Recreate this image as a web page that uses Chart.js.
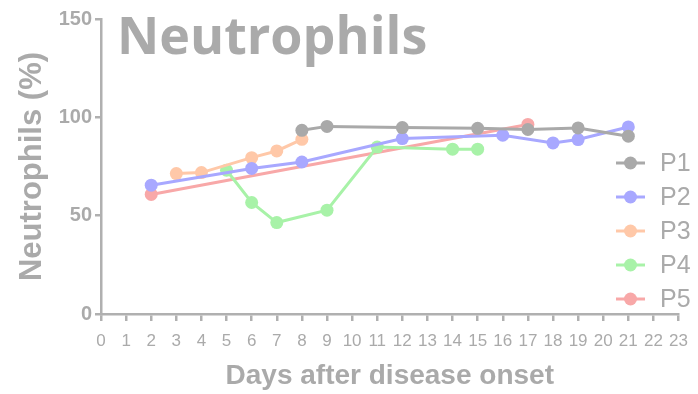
<!DOCTYPE html>
<html><head><meta charset="utf-8">
<script src="https://cdn.jsdelivr.net/npm/chart.js@4/dist/chart.umd.min.js"></script>
<style>html,body{margin:0;padding:0;background:#fff}#wrap{width:698px;height:394px;position:relative}</style>
</head><body><div id="wrap"><canvas id="c" width="698" height="394"></canvas></div>
<script>
const chartTitle = "Neutrophils";
const xTitle = "Days after disease onset";
const yTitle = "Neutrophils (%)";
const xTicks = [0,1,2,3,4,5,6,7,8,9,10,11,12,13,14,15,16,17,18,19,20,21,22,23];
const yTicks = [0,50,100,150];
const seriesNames = ["P1","P2","P3","P4","P5"];
const seriesColors = ["#a9a9a9","#a8a8ff","#ffc8a8","#a8f2a8","#f8a8a8"];
const p1Days = [8,9,12,15,17,19,21];
const p1Vals = [93.4,95.4,94.8,94.4,93.8,94.6,90.4];
const p2Days = [2,6,8,12,16,18,19,21];
const p2Vals = [65.5,74,77.3,89.2,90.9,87,88.7,95.1];
const p3Days = [3,4,6,7,8];
const p3Vals = [71.4,71.9,79.5,82.9,88.8];
const p4Days = [5,6,7,9,11,14,15];
const p4Vals = [73.1,56.7,46.5,52.8,84.9,83.8,83.8];
const p5Days = [2,17];
const p5Vals = [60.8,96.4];

const daysList = [p1Days,p2Days,p3Days,p4Days,p5Days];
const valsList = [p1Vals,p2Vals,p3Vals,p4Vals,p5Vals];
const GREY = "#b0b0b0";
const SANS = "'Liberation Sans',Arial,sans-serif";

const datasets = seriesNames.map((n,i)=>({
  label:n,
  data: daysList[i].map((d,j)=>({x:d,y:valsList[i][j]})),
  borderColor: seriesColors[i],
  backgroundColor: seriesColors[i],
  pointBackgroundColor: seriesColors[i],
  pointBorderColor: seriesColors[i],
  borderWidth: 3,
  pointRadius: 6.5,
  pointBorderWidth: 0,
  tension: 0
}));

const overlay = {
  id:'overlay',
  afterDraw(chart){
    const ctx = chart.ctx;
    ctx.save();
    ctx.fillStyle = "#aaaaaa";
    ctx.font = "bold 52px 'Open Sans', sans-serif";
    ctx.textBaseline = "alphabetic";
    ctx.textAlign = "left";
    ctx.fillText(chartTitle, 117, 54);
    // legend
    const ys = [163,197,231,265,299];
    seriesNames.forEach((n,i)=>{
      const y = ys[i];
      ctx.strokeStyle = seriesColors[i];
      ctx.lineWidth = 3;
      ctx.beginPath(); ctx.moveTo(616,y); ctx.lineTo(645,y); ctx.stroke();
      ctx.fillStyle = seriesColors[i];
      ctx.beginPath(); ctx.arc(630.5,y,6.5,0,Math.PI*2); ctx.fill();
      ctx.fillStyle = "#aaaaaa";
      ctx.font = "25px " + SANS;
      ctx.textBaseline = "middle";
      ctx.fillText(n, 660, y+1);
    });
    ctx.restore();
  }
};

new Chart(document.getElementById('c'),{
  type:'line',
  data:{datasets},
  options:{
    responsive:false,
    animation:false,
    layout:{padding:{top:19,right:17,left:0,bottom:0}},
    plugins:{legend:{display:false},tooltip:{enabled:false},title:{display:false}},
    scales:{
      x:{
        type:'linear', min:0, max:23,
        afterBuildTicks(s){ s.ticks = xTicks.map(v=>({value:v})); },
        afterFit(s){ s.height = 80; },
        border:{display:true,color:GREY,width:2.5},
        grid:{display:true,drawOnChartArea:false,drawTicks:true,tickLength:7,color:GREY,lineWidth:2.5},
        ticks:{color:"#aaaaaa",padding:10,maxRotation:0,autoSkip:false,font:{family:SANS,size:17}},
        title:{display:true,text:xTitle,color:"#aaaaaa",font:{family:SANS,size:28,weight:'bold'},padding:{top:4,bottom:1}}
      },
      y:{
        type:'linear', min:0, max:150,
        afterBuildTicks(s){ s.ticks = yTicks.map(v=>({value:v})); },
        afterFit(s){ s.width = 101; },
        border:{display:true,color:GREY,width:2.5},
        grid:{display:true,drawOnChartArea:false,drawTicks:true,tickLength:6,color:GREY,lineWidth:2.5},
        ticks:{color:"#aaaaaa",padding:3,font:{family:SANS,size:20,weight:'bold'}},
        title:{display:true,text:yTitle,color:"#aaaaaa",font:{family:SANS,size:31,weight:'bold'},padding:{top:14,bottom:0}}
      }
    }
  },
  plugins:[overlay]
});
</script></body></html>
